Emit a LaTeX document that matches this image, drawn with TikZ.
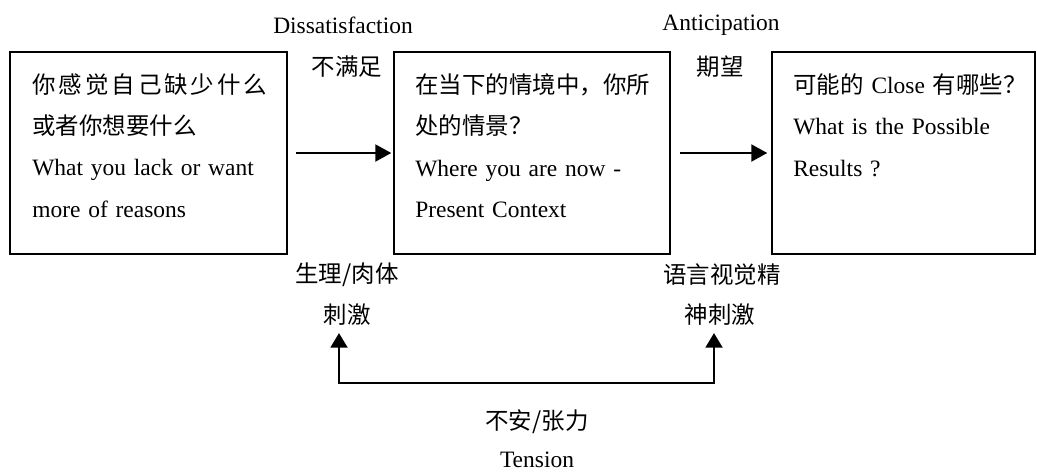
\documentclass[tikz,border=0pt]{standalone}
\usepackage{fontspec}
\setmainfont{Liberation Serif}
\newfontfamily\cjk{Noto Sans CJK SC}
\usetikzlibrary{arrows.meta}
\newlength\tw
\setlength\tw{176.25pt}
\begin{document}
\begin{tikzpicture}[x=0.75pt,y=-0.75pt,
  box/.style={draw,line width=1.1pt,inner sep=0pt,outer sep=0pt,anchor=north west,minimum height=151.5pt},
  txt/.style={anchor=north west,inner sep=0pt,text width=\tw,align=left,font=\fontsize{17.6pt}{31.1pt}\selectfont},
  lbl/.style={inner sep=0pt,font=\fontsize{17.6pt}{30pt}\selectfont},
  arr/.style={line width=2.2pt,-{Triangle[length=12pt,width=12.5pt]}},
  tarr/.style={line width=2.2pt,{Triangle[length=11pt,width=12.5pt]}-{Triangle[length=11pt,width=12.5pt]}}]
\useasboundingbox (0,0) rectangle (1037,471);
% boxes
\node[box,minimum width=207.75pt] (b1) at (10,52) {};
\node[box,minimum width=207pt] (b2) at (394,52) {};
\node[box,minimum width=197.25pt] (b3) at (772,52) {};
% box texts
\node[txt] (t1) at (32,73) {\makebox[\tw][s]{\cjk 你\hfil 感\hfil 觉\hfil 自\hfil 己\hfil 缺\hfil 少\hfil 什\hfil 么}\\{\cjk 或者你想要什么}\\\makebox[\tw][s]{What you lack or want}\\more of reasons};
\node[txt] (t2) at (415,73) {{\cjk 在当下的情境中，你所}\\{\cjk 处的情景？}\\\makebox[\tw][s]{Where you are now -}\\Present Context};
\node[txt] (t3) at (793,73) {{\cjk 可能的} Close {\cjk 有哪些？}\\\makebox[\tw][s]{What is the Possible}\\Results ?};
% arrows between boxes
\draw[arr] ([xshift=7pt]b1.east) -- ([xshift=-2pt]b2.west);
\draw[arr] ([xshift=7.5pt]b2.east) -- ([xshift=-3.5pt]b3.west);
% top labels
\node[lbl] (d1) at (343,25) {Dissatisfaction};
\node[lbl] (d2) at (347,67) {\cjk 不满足};
\node[lbl] (a1) at (721,25) {Anticipation};
\node[lbl] (a2) at (720,67) {\cjk 期望};
% stimulus labels
\node[lbl] (s1a) at (347,275) {\cjk 生理/肉体};
\node[lbl] (s1b) at (347,315) {\cjk 刺激};
\node[lbl] (s2a) at (722,275) {\cjk 语言视觉精};
\node[lbl] (s2b) at (720,315) {\cjk 神刺激};
% tension
\coordinate (p1) at (339,333);
\coordinate (p2) at (714,333);
\draw[tarr] (p1) -- (339,383) -- (714,383) -- (p2);
\node[lbl] (n1) at (537,422) {\cjk 不安/张力};
\node[lbl] (n2) at (537,460) {Tension};
\end{tikzpicture}
\end{document}
